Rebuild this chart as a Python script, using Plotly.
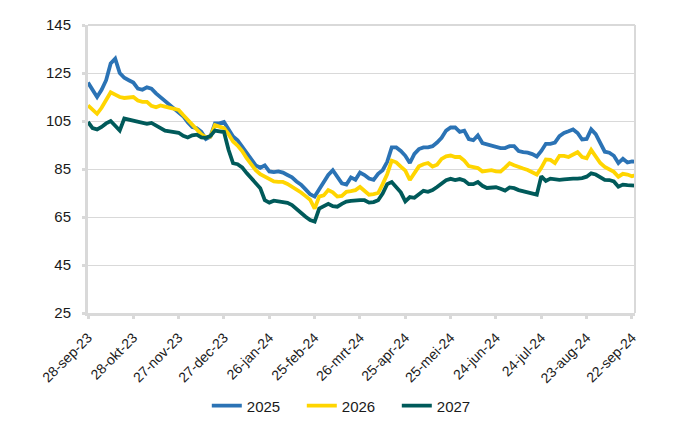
import pandas as pd
import plotly.graph_objects as go

# Sampling dates (every 3 days from 28-sep-2023)
dates = pd.date_range("2023-09-28", periods=122, freq="3D")

s2025 = [121, 118, 115, 118, 122, 129, 131, 125, 123, 122,
         121, 118.5, 118, 119, 118.5, 116.5, 115, 113, 112, 110,
         108.5, 107, 104.5, 102.5, 102, 100.5, 97.5, 98.5, 104, 104,
         104.6, 101.5, 98.5, 97, 94.5, 92, 89.5, 86.5, 85.5, 86.5,
         84, 83.7, 84, 83.5, 82.5, 81.5, 79.8, 78.5, 76.5, 74.5,
         73.5, 76.5, 79, 82.5, 84.5, 82, 79, 78.5, 81.5, 80.5,
         83.5, 82.5, 81, 80.5, 83, 84.5, 88, 94, 94, 92.5,
         90.5, 87.5, 91.3, 93.3, 94, 94, 94.5, 96, 98, 101,
         102.3, 102.3, 100.5, 101, 97.5, 97, 99, 95.8, 95.3, 94.8,
         94.2, 93.7, 93.7, 94.5, 94.5, 92.5, 92, 91.8, 91.2, 90.2,
         92.5, 95.5, 95.5, 96, 98.7, 100, 100.7, 101.5, 100, 97.3,
         97.5, 101.5, 99.5, 95.5, 92.2, 91.8, 90.5, 87.5, 89.3, 87.7,
         88.2, 88]

s2026 = [111.5, 109.5, 108, 110.5, 114, 117, 116, 115, 114.6, 115,
         115, 113.5, 113, 113, 111.3, 110.7, 111.5, 111, 110.5, 110,
         109.6, 107.5, 105.5, 103.5, 101, 99.5, 98.2, 98.5, 103.3, 102.8,
         102, 99.5, 96.5, 94.8, 92.5, 89.5, 87, 84.5, 82.8, 81.7,
         80.7, 79.8, 79.6, 79.6, 78.8, 77.7, 76.5, 75.2, 73.7, 72.2,
         68.5, 73.5, 74, 76.2, 75.3, 73.5, 73.8, 75.5, 75.8, 76.2,
         77.5, 76.1, 74.3, 74.5, 75, 78.7, 82.8, 88.5, 87.8, 86,
         84.3, 80.4, 83.4, 86.1, 87, 87.5, 86, 86.8, 89.2, 90.3,
         90.6, 90, 90, 88.5, 86.2, 85.7, 85.4, 84, 84.3, 84.5,
         84, 83.9, 85.6, 87.4, 86.6, 85.7, 85.2, 84.6, 83.7, 82.7,
         85.5, 89, 88.8, 87.5, 90.5, 90.5, 90, 90.8, 92, 90,
         89.5, 93, 90, 87.5, 85.9, 85, 83.8, 81.8, 83, 82.7,
         82, 82.5]

s2027 = [104.6, 102, 101.5, 102.5, 104, 105, 103, 101, 106, 105.5,
         105, 104.8, 104, 103.8, 104.2, 103, 102, 101, 100.7, 100.4,
         100.1, 98.8, 98.1, 99, 99.3, 98.2, 98, 98.8, 101, 100.7,
         100.4, 93, 87.4, 87, 85.7, 83.3, 81.2, 79.2, 77, 72,
         71, 71.8, 71.4, 71.1, 70.9, 70, 68.2, 66.6, 65.1, 63.7,
         63.1, 68.5, 69.6, 70.5, 69.5, 69.3, 70.5, 71.4, 71.7, 72,
         72, 72, 71, 71.2, 72, 74.8, 78.7, 79.6, 77.6, 75.3,
         71.5, 73.3, 73, 74.7, 75.9, 75.5, 76.2, 77.5, 78.9, 80.3,
         80.9, 80.4, 80.8, 80.2, 78.7, 78.7, 79.6, 78, 77.1, 77.3,
         77.4, 76.8, 76, 77.3, 77, 76.2, 75.7, 75.3, 74.8, 74.3,
         82, 80, 81, 80.8, 80.5, 80.7, 81, 81, 81, 81.2,
         81.8, 83.2, 82.7, 81.7, 80.5, 80.4, 79.8, 77.6, 78.5, 78.3,
         78, 78]

tick_dates = ["2023-09-28", "2023-10-28", "2023-11-27", "2023-12-27", "2024-01-26",
              "2024-02-25", "2024-03-26", "2024-04-25", "2024-05-25", "2024-06-24",
              "2024-07-24", "2024-08-23", "2024-09-22"]
tick_labels = ["28-sep-23", "28-okt-23", "27-nov-23", "27-dec-23", "26-jan-24",
               "25-feb-24", "26-mrt-24", "25-apr-24", "25-mei-24", "24-jun-24",
               "24-jul-24", "23-aug-24", "22-sep-24"]
y_ticks = [25, 45, 65, 85, 105, 125, 145]

series = [("2025", s2025, "#2b73b5"), ("2026", s2026, "#ffd500"), ("2027", s2027, "#005a5a")]

fig = go.Figure()
for name, vals, col in series:
    fig.add_trace(go.Scatter(x=dates, y=vals, mode="lines", name=name,
                             line=dict(color=col, width=3.8)))

grid = "#d9d9d9"
font = "Liberation Sans, Arial, sans-serif"
fig.update_layout(
    width=700, height=430,
    margin=dict(l=88, r=65, t=25, b=117, autoexpand=False),
    paper_bgcolor="white", plot_bgcolor="white",
    font=dict(family=font, size=15, color="#1a1a1a"),
    showlegend=True,
    legend=dict(orientation="h", xref="container", x=0.499, xanchor="center",
                yref="container", y=0.056, yanchor="middle",
                font=dict(size=15), itemwidth=30, entrywidth=50),
    xaxis=dict(range=["2023-09-28", "2024-09-24"], tickmode="array",
               tickvals=tick_dates, ticktext=tick_labels, tickangle=-45,
               showgrid=False, showline=True, linewidth=3, linecolor=grid,
               ticks="outside", ticklen=3, tickwidth=3, tickcolor=grid,
               ticklabelstandoff=5,
               tickfont=dict(size=14), zeroline=False, automargin=False),
    yaxis=dict(range=[25, 145], tickmode="array", tickvals=y_ticks,
               showgrid=True, gridcolor=grid, gridwidth=1,
               showline=True, linewidth=3, linecolor=grid,
               ticks="outside", ticklen=3, tickwidth=3, tickcolor=grid,
               ticklabelstandoff=8, tickfont=dict(size=15), zeroline=False,
               automargin=False),
    shapes=[
        dict(type="line", xref="paper", yref="paper", x0=1, x1=1, y0=0, y1=1,
             line=dict(color=grid, width=2)),
        dict(type="line", xref="paper", yref="paper", x0=0, x1=1, y0=1, y1=1,
             line=dict(color=grid, width=2)),
    ],
)

fig.write_html("out.html", config={"displayModeBar": False},
               post_script="document.body.style.margin='0px';")
